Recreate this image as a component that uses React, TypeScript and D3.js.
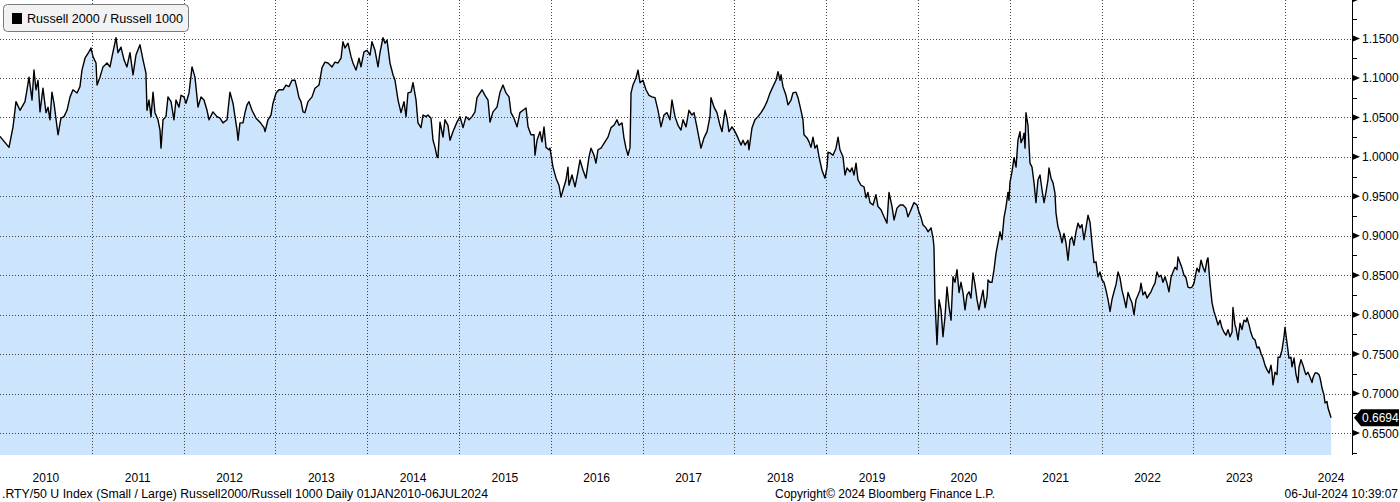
import React from "react";
import * as d3 from "d3";

// Decimal years since 2010-01-01 and Russell 2000 / Russell 1000 ratio values
const yearsSince2010 = [
  0.000, 0.098, 0.142, 0.174, 0.218, 0.272, 0.294, 0.316, 0.349, 0.370,
  0.392, 0.414, 0.436, 0.468, 0.501, 0.523, 0.545, 0.566, 0.588, 0.621,
  0.632, 0.664, 0.697, 0.730, 0.763, 0.795, 0.839, 0.871, 0.893, 0.926,
  0.969, 0.991, 1.013, 1.046, 1.057, 1.089, 1.122, 1.166, 1.198, 1.231,
  1.264, 1.285, 1.318, 1.351, 1.383, 1.416, 1.449, 1.481, 1.525, 1.558,
  1.590, 1.601, 1.623, 1.645, 1.667, 1.688, 1.721, 1.743, 1.754, 1.776,
  1.808, 1.830, 1.863, 1.895, 1.917, 1.950, 1.972, 2.004, 2.026, 2.059,
  2.092, 2.124, 2.157, 2.190, 2.222, 2.255, 2.277, 2.320, 2.364, 2.397,
  2.429, 2.473, 2.505, 2.538, 2.560, 2.582, 2.593, 2.614, 2.647, 2.669,
  2.691, 2.712, 2.745, 2.789, 2.832, 2.876, 2.887, 2.919, 2.952, 2.974,
  3.007, 3.039, 3.083, 3.115, 3.148, 3.181, 3.214, 3.235, 3.257, 3.279,
  3.301, 3.322, 3.355, 3.399, 3.431, 3.475, 3.508, 3.540, 3.573, 3.617,
  3.649, 3.682, 3.715, 3.736, 3.758, 3.791, 3.824, 3.845, 3.878, 3.911,
  3.932, 3.965, 3.998, 4.031, 4.052, 4.085, 4.118, 4.139, 4.172, 4.194,
  4.216, 4.248, 4.281, 4.303, 4.336, 4.368, 4.401, 4.423, 4.444, 4.477,
  4.499, 4.532, 4.553, 4.586, 4.608, 4.641, 4.662, 4.695, 4.717, 4.739,
  4.760, 4.771, 4.793, 4.826, 4.847, 4.880, 4.902, 4.935, 4.978, 5.011,
  5.044, 5.076, 5.109, 5.142, 5.174, 5.196, 5.229, 5.251, 5.283, 5.316,
  5.338, 5.370, 5.414, 5.447, 5.479, 5.512, 5.545, 5.566, 5.599, 5.632,
  5.664, 5.697, 5.730, 5.752, 5.784, 5.817, 5.828, 5.850, 5.882, 5.904,
  5.926, 5.948, 5.980, 5.991, 6.024, 6.057, 6.089, 6.111, 6.133, 6.166,
  6.187, 6.198, 6.231, 6.264, 6.296, 6.318, 6.351, 6.383, 6.416, 6.438,
  6.471, 6.492, 6.514, 6.547, 6.590, 6.623, 6.656, 6.688, 6.721, 6.743,
  6.776, 6.797, 6.819, 6.841, 6.863, 6.874, 6.895, 6.928, 6.950, 6.972,
  7.004, 7.037, 7.070, 7.102, 7.135, 7.168, 7.200, 7.233, 7.266, 7.298,
  7.320, 7.353, 7.386, 7.418, 7.440, 7.473, 7.505, 7.538, 7.560, 7.593,
  7.614, 7.636, 7.669, 7.702, 7.734, 7.745, 7.778, 7.810, 7.843, 7.865,
  7.898, 7.919, 7.941, 7.974, 8.007, 8.039, 8.072, 8.094, 8.115, 8.148,
  8.159, 8.192, 8.224, 8.257, 8.290, 8.322, 8.355, 8.388, 8.420, 8.453,
  8.475, 8.497, 8.508, 8.529, 8.562, 8.584, 8.617, 8.638, 8.671, 8.693,
  8.725, 8.747, 8.758, 8.791, 8.813, 8.834, 8.856, 8.878, 8.900, 8.922,
  8.954, 8.987, 9.009, 9.020, 9.041, 9.074, 9.107, 9.129, 9.150, 9.183,
  9.205, 9.227, 9.259, 9.281, 9.303, 9.325, 9.346, 9.379, 9.412, 9.434,
  9.455, 9.477, 9.510, 9.542, 9.564, 9.597, 9.630, 9.662, 9.684, 9.717,
  9.739, 9.771, 9.804, 9.837, 9.869, 9.891, 9.924, 9.956, 9.989, 10.011,
  10.033, 10.054, 10.087, 10.109, 10.142, 10.163, 10.174, 10.185, 10.207, 10.229,
  10.251, 10.272, 10.294, 10.316, 10.338, 10.360, 10.381, 10.403, 10.425, 10.447,
  10.468, 10.490, 10.512, 10.534, 10.556, 10.577, 10.599, 10.621, 10.643, 10.664,
  10.686, 10.708, 10.730, 10.752, 10.763, 10.784, 10.806, 10.828, 10.850, 10.871,
  10.893, 10.915, 10.937, 10.959, 10.980, 10.991, 11.002, 11.024, 11.046, 11.068,
  11.089, 11.111, 11.122, 11.144, 11.155, 11.166, 11.176, 11.198, 11.220, 11.242,
  11.264, 11.285, 11.307, 11.329, 11.351, 11.373, 11.394, 11.416, 11.427, 11.449,
  11.471, 11.492, 11.503, 11.525, 11.547, 11.569, 11.590, 11.612, 11.634, 11.656,
  11.678, 11.699, 11.721, 11.743, 11.765, 11.786, 11.808, 11.830, 11.852, 11.874,
  11.895, 11.917, 11.939, 11.961, 11.983, 12.004, 12.026, 12.048, 12.070, 12.092,
  12.113, 12.135, 12.157, 12.179, 12.200, 12.222, 12.244, 12.266, 12.288, 12.309,
  12.331, 12.353, 12.375, 12.397, 12.418, 12.429, 12.451, 12.473, 12.495, 12.516,
  12.538, 12.560, 12.582, 12.603, 12.625, 12.647, 12.669, 12.691, 12.712, 12.734,
  12.756, 12.778, 12.800, 12.821, 12.832, 12.854, 12.876, 12.898, 12.919, 12.941,
  12.963, 12.985, 13.007, 13.028, 13.039, 13.061, 13.083, 13.105, 13.126, 13.148,
  13.159, 13.181, 13.203, 13.224, 13.246, 13.268, 13.290, 13.312, 13.333, 13.355,
  13.377, 13.399, 13.421, 13.431, 13.453, 13.464, 13.486, 13.508, 13.529, 13.551,
  13.573, 13.584, 13.606, 13.627, 13.649, 13.671, 13.693, 13.715, 13.736, 13.758,
  13.780, 13.802, 13.824, 13.845, 13.856, 13.867, 13.889, 13.911, 13.922, 13.943,
  13.965, 13.987, 13.998, 14.020, 14.041, 14.063, 14.074, 14.096, 14.118, 14.139,
  14.150, 14.172, 14.194, 14.216, 14.227, 14.248, 14.270, 14.292, 14.303, 14.325,
  14.346, 14.368, 14.379, 14.390, 14.401, 14.423, 14.434, 14.455, 14.466, 14.500,
];

const ratioValues = [
  1.026, 1.012, 1.038, 1.070, 1.059, 1.070, 1.085, 1.101, 1.072, 1.110,
  1.085, 1.097, 1.057, 1.087, 1.056, 1.063, 1.047, 1.082, 1.068, 1.038,
  1.028, 1.049, 1.051, 1.059, 1.076, 1.085, 1.081, 1.089, 1.110, 1.125,
  1.133, 1.138, 1.127, 1.119, 1.091, 1.101, 1.114, 1.119, 1.114, 1.133,
  1.151, 1.132, 1.139, 1.123, 1.114, 1.132, 1.104, 1.129, 1.142, 1.123,
  1.106, 1.059, 1.072, 1.051, 1.082, 1.056, 1.047, 1.034, 1.011, 1.047,
  1.051, 1.076, 1.070, 1.047, 1.072, 1.063, 1.078, 1.076, 1.068, 1.081,
  1.114, 1.101, 1.063, 1.076, 1.072, 1.059, 1.047, 1.057, 1.051, 1.049,
  1.043, 1.047, 1.082, 1.068, 1.051, 1.034, 1.021, 1.043, 1.043, 1.056,
  1.066, 1.070, 1.059, 1.049, 1.044, 1.037, 1.032, 1.047, 1.053, 1.068,
  1.081, 1.085, 1.085, 1.091, 1.089, 1.097, 1.097, 1.087, 1.075, 1.070,
  1.057, 1.056, 1.070, 1.076, 1.087, 1.091, 1.113, 1.120, 1.119, 1.114,
  1.120, 1.119, 1.125, 1.146, 1.138, 1.144, 1.127, 1.119, 1.110, 1.125,
  1.114, 1.133, 1.135, 1.129, 1.146, 1.135, 1.114, 1.132, 1.151, 1.144,
  1.148, 1.119, 1.104, 1.097, 1.072, 1.056, 1.070, 1.051, 1.081, 1.082,
  1.094, 1.072, 1.043, 1.037, 1.053, 1.051, 1.053, 1.049, 1.021, 1.012,
  1.000, 0.999, 1.044, 1.025, 1.047, 1.040, 1.021, 1.032, 1.044, 1.051,
  1.037, 1.051, 1.047, 1.051, 1.057, 1.075, 1.081, 1.085, 1.078, 1.072,
  1.044, 1.057, 1.063, 1.082, 1.091, 1.081, 1.076, 1.056, 1.049, 1.038,
  1.056, 1.059, 1.062, 1.038, 1.028, 1.028, 1.002, 1.021, 1.032, 1.019,
  1.038, 1.012, 1.009, 1.011, 0.987, 0.973, 0.964, 0.949, 0.958, 0.971,
  0.987, 0.964, 0.977, 0.962, 0.981, 0.996, 0.983, 0.973, 1.000, 1.011,
  1.002, 0.992, 1.009, 1.011, 1.019, 1.025, 1.037, 1.040, 1.047, 1.040,
  1.043, 1.024, 1.011, 1.002, 1.012, 1.081, 1.091, 1.100, 1.110, 1.094,
  1.097, 1.085, 1.078, 1.076, 1.075, 1.059, 1.038, 1.053, 1.056, 1.047,
  1.072, 1.051, 1.040, 1.034, 1.047, 1.038, 1.059, 1.053, 1.056, 1.037,
  1.024, 1.011, 1.024, 1.032, 1.051, 1.075, 1.063, 1.056, 1.040, 1.032,
  1.059, 1.049, 1.032, 1.038, 1.032, 1.024, 1.015, 1.021, 1.015, 1.021,
  1.009, 1.037, 1.047, 1.051, 1.056, 1.062, 1.070, 1.081, 1.089, 1.097,
  1.108, 1.097, 1.104, 1.089, 1.078, 1.066, 1.072, 1.081, 1.082, 1.075,
  1.059, 1.047, 1.028, 1.024, 1.019, 1.012, 1.025, 1.011, 1.015, 1.000,
  0.983, 0.973, 0.987, 1.006, 1.005, 1.002, 1.011, 1.025, 1.009, 1.000,
  0.977, 0.986, 0.981, 0.986, 0.977, 0.992, 0.971, 0.964, 0.962, 0.948,
  0.955, 0.942, 0.939, 0.952, 0.937, 0.933, 0.924, 0.916, 0.955, 0.937,
  0.920, 0.935, 0.939, 0.939, 0.935, 0.924, 0.933, 0.942, 0.939, 0.930,
  0.923, 0.914, 0.910, 0.905, 0.910, 0.898, 0.886, 0.819, 0.762, 0.819,
  0.806, 0.772, 0.797, 0.835, 0.810, 0.793, 0.848, 0.841, 0.857, 0.828,
  0.841, 0.828, 0.806, 0.825, 0.829, 0.821, 0.853, 0.838, 0.819, 0.806,
  0.819, 0.831, 0.809, 0.823, 0.844, 0.841, 0.841, 0.857, 0.878, 0.891,
  0.905, 0.895, 0.923, 0.937, 0.955, 0.945, 0.968, 0.981, 0.999, 0.987,
  1.021, 1.032, 1.018, 1.024, 1.030, 1.011, 1.056, 1.040, 0.992, 0.987,
  0.967, 0.942, 0.971, 0.977, 0.958, 0.942, 0.955, 0.971, 0.986, 0.973,
  0.967, 0.954, 0.929, 0.911, 0.903, 0.891, 0.903, 0.891, 0.869, 0.895,
  0.898, 0.888, 0.905, 0.916, 0.910, 0.914, 0.895, 0.910, 0.926, 0.917,
  0.891, 0.866, 0.867, 0.848, 0.854, 0.844, 0.841, 0.831, 0.819, 0.804,
  0.819, 0.829, 0.838, 0.854, 0.847, 0.831, 0.821, 0.809, 0.828, 0.821,
  0.815, 0.800, 0.819, 0.825, 0.831, 0.840, 0.825, 0.829, 0.821, 0.825,
  0.829, 0.835, 0.840, 0.854, 0.848, 0.850, 0.841, 0.848, 0.840, 0.829,
  0.847, 0.854, 0.860, 0.857, 0.873, 0.866, 0.859, 0.850, 0.847, 0.835,
  0.834, 0.835, 0.840, 0.853, 0.859, 0.854, 0.869, 0.860, 0.854, 0.869,
  0.872, 0.840, 0.815, 0.804, 0.796, 0.787, 0.793, 0.783, 0.778, 0.774,
  0.781, 0.772, 0.778, 0.809, 0.787, 0.783, 0.768, 0.789, 0.781, 0.793,
  0.791, 0.796, 0.787, 0.777, 0.770, 0.768, 0.758, 0.759, 0.751, 0.745,
  0.736, 0.730, 0.726, 0.736, 0.727, 0.711, 0.727, 0.724, 0.746, 0.746,
  0.755, 0.772, 0.784, 0.764, 0.745, 0.746, 0.734, 0.745, 0.724, 0.714,
  0.733, 0.743, 0.736, 0.727, 0.724, 0.727, 0.721, 0.714, 0.720, 0.726,
  0.726, 0.724, 0.720, 0.714, 0.707, 0.698, 0.688, 0.690, 0.682, 0.6694,
];

const yTicks = [0.65, 0.7, 0.75, 0.8, 0.85, 0.9, 0.95, 1.0, 1.05, 1.1, 1.15];
const yTickMarks = [0.65, 0.7, 0.75, 0.8, 0.85, 0.9, 0.95, 1.0, 1.05, 1.1, 1.15, 1.2];
const yMinorTicks = [0.625, 0.675, 0.725, 0.775, 0.825, 0.875, 0.925, 0.975, 1.025, 1.075, 1.125, 1.175];
const yearLabels = [2010, 2011, 2012, 2013, 2014, 2015, 2016, 2017, 2018, 2019, 2020, 2021, 2022, 2023, 2024];
const baseYear = 2010;
const lastValueLabel = "0.6694";
const legendLabel = "Russell 2000 / Russell 1000";
const footerLeft = ".RTY/50 U Index (Small / Large) Russell2000/Russell 1000  Daily 01JAN2010-06JUL2024";
const footerMid = "Copyright\u00A9 2024 Bloomberg Finance L.P.";
const footerRight = "06-Jul-2024 10:39:07";

const W = 1400;
const H = 502;
const PLOT_R = 1352;
const PLOT_B = 455;
const FONT = "'Liberation Sans', Arial, sans-serif";

export default function App() {
  const data = yearsSince2010.map((o, i) => ({ t: baseYear + o, v: ratioValues[i] }));
  const x = d3.scaleLinear().domain([2010, 2025]).range([0, 1377]);
  const y = d3.scaleLinear().domain([0.65, 1.15]).range([433, 38.5]);

  const area = d3
    .area<{ t: number; v: number }>()
    .x((d) => x(d.t))
    .y0(PLOT_B)
    .y1((d) => y(d.v));
  const line = d3
    .line<{ t: number; v: number }>()
    .x((d) => x(d.t))
    .y((d) => y(d.v));

  const lastY = y(ratioValues[ratioValues.length - 1]);

  return (
    <svg
      width={W}
      height={H}
      style={{ position: "fixed", left: 0, top: 0, background: "#fff" }}
      fontFamily={FONT}
    >
      <defs>
        <clipPath id="plotClip">
          <rect x={0} y={0} width={PLOT_R} height={PLOT_B} />
        </clipPath>
      </defs>
      <rect x={0} y={0} width={W} height={H} fill="#fff" />
      <g clipPath="url(#plotClip)">
        <path d={area(data) || ""} fill="#cce4fc" />
        {yTicks.map((t) => (
          <line
            key={"gy" + t}
            x1={0}
            x2={PLOT_R}
            y1={Math.round(y(t)) + 0.5}
            y2={Math.round(y(t)) + 0.5}
            stroke="#444"
            strokeWidth={1}
            strokeDasharray="1,2"
          />
        ))}
        {yearLabels.slice(1).map((yr) => (
          <line
            key={"gx" + yr}
            x1={Math.round(x(yr)) + 0.5}
            x2={Math.round(x(yr)) + 0.5}
            y1={0}
            y2={PLOT_B}
            stroke="#444"
            strokeWidth={1}
            strokeDasharray="1,2"
          />
        ))}
        <path d={line(data) || ""} fill="none" stroke="#000" strokeWidth={1.4} strokeLinejoin="round" />
      </g>

      {/* right axis */}
      <line x1={PLOT_R + 0.5} x2={PLOT_R + 0.5} y1={0} y2={PLOT_B} stroke="#000" strokeWidth={1} />
      {yTickMarks.map((t) => (
        <path
          key={"tm" + t}
          d={`M${PLOT_R + 1},${y(t) - 3} L${PLOT_R + 8},${y(t)} L${PLOT_R + 1},${y(t) + 3} Z`}
          fill="#000"
        />
      ))}
      {yMinorTicks.map((t) => (
        <line
          key={"mt" + t}
          x1={PLOT_R}
          x2={PLOT_R + 5}
          y1={Math.round(y(t)) + 0.5}
          y2={Math.round(y(t)) + 0.5}
          stroke="#000"
        />
      ))}
      {yTicks.map((t) => (
        <text key={"yl" + t} x={1362} y={y(t) + 4.5} fontSize={12} fill="#000">
          {d3.format(".4f")(t)}
        </text>
      ))}

      {/* last value tag */}
      <path
        d={`M${PLOT_R + 2},${lastY} L${PLOT_R + 9},${lastY - 8.5} L1399,${lastY - 8.5} L1399,${lastY + 8.5} L${PLOT_R + 9},${lastY + 8.5} Z`}
        fill="#000"
      />
      <text x={1362} y={lastY + 4.5} fontSize={12} fill="#fff">
        {lastValueLabel}
      </text>

      {/* x labels */}
      {yearLabels.map((yr) => (
        <text key={"xl" + yr} x={x(yr + 0.5)} y={482} fontSize={12} textAnchor="middle" fill="#000">
          {yr}
        </text>
      ))}

      {/* footer */}
      <text x={2} y={498} fontSize={12} fill="#000" textLength={486} lengthAdjust="spacingAndGlyphs">
        {footerLeft}
      </text>
      <text x={775} y={498} fontSize={12} fill="#000" textLength={220} lengthAdjust="spacingAndGlyphs">
        {footerMid}
      </text>
      <text x={1398} y={498} fontSize={12} fill="#000" textAnchor="end">
        {footerRight}
      </text>

      {/* legend */}
      <rect x={3.5} y={4.5} width={185} height={27} rx={4} fill="#f2f2f2" stroke="#7a7a7a" />
      <rect x={12} y={13} width={10} height={11} fill="#000" />
      <text x={27} y={23} fontSize={12} fill="#000" textLength={156} lengthAdjust="spacingAndGlyphs">
        {legendLabel}
      </text>
    </svg>
  );
}
